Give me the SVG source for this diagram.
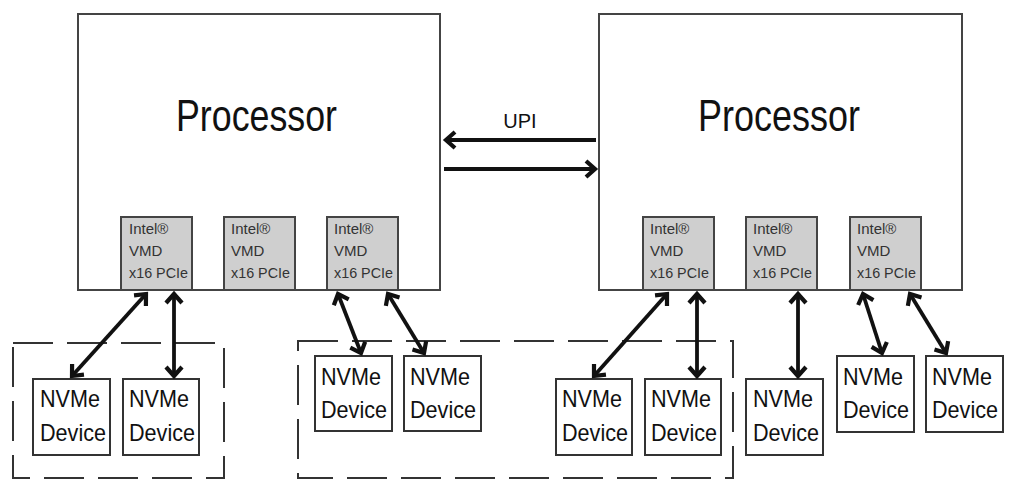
<svg xmlns="http://www.w3.org/2000/svg" width="1010" height="481" viewBox="0 0 1010 481">
<style>
.bg{fill:#ffffff}
.proc{fill:#ffffff;stroke:#444;stroke-width:2}
.vmd{fill:#cfcfcf;stroke:#444;stroke-width:2}
.dev{fill:#ffffff;stroke:#333;stroke-width:2}
.grp{fill:none;stroke:#333;stroke-width:2;stroke-dasharray:40 14}
.t{font-family:"Liberation Sans",Arial,sans-serif;fill:#111}
.big{font-size:44px}
.upi{font-size:20px}
.small{font-size:15px;fill:#333}
.nv{font-size:24px}
.arr{fill:none;stroke:#111;stroke-width:3.8;marker-start:url(#ah);marker-end:url(#ah)}
.one{fill:none;stroke:#111;stroke-width:3.8;marker-end:url(#ah)}
</style>
<defs>
<marker id="ah" markerUnits="userSpaceOnUse" markerWidth="22" markerHeight="22" viewBox="0 0 22 22" refX="14" refY="11" orient="auto-start-reverse">
<path d="M5,3 L14,11 L5,19" fill="none" stroke="#111" stroke-width="4.2" stroke-linejoin="miter"/>
</marker>
</defs>
<rect class="bg" x="0" y="0" width="1010" height="481"/>

<g id="processor-left">
<rect class="proc" x="78" y="14" width="362" height="276"/>
<text class="t big" x="176" y="131" textLength="161" lengthAdjust="spacingAndGlyphs">Processor</text>
</g>
<g id="processor-right">
<rect class="proc" x="599" y="14" width="363" height="276"/>
<text class="t big" x="698" y="131" textLength="162" lengthAdjust="spacingAndGlyphs">Processor</text>
</g>

<g id="vmd-l1">
<rect class="vmd" x="121" y="217" width="71" height="73"/>
<text class="t small" x="129" y="234">Intel®</text>
<text class="t small" x="129" y="256">VMD</text>
<text class="t small" x="129" y="278" textLength="59" lengthAdjust="spacingAndGlyphs">x16 PCIe</text>
</g>
<g id="vmd-l2">
<rect class="vmd" x="224" y="217" width="71" height="73"/>
<text class="t small" x="231" y="234">Intel®</text>
<text class="t small" x="231" y="256">VMD</text>
<text class="t small" x="231" y="278" textLength="59" lengthAdjust="spacingAndGlyphs">x16 PCIe</text>
</g>
<g id="vmd-l3">
<rect class="vmd" x="327" y="217" width="71" height="73"/>
<text class="t small" x="334" y="234">Intel®</text>
<text class="t small" x="334" y="256">VMD</text>
<text class="t small" x="334" y="278" textLength="59" lengthAdjust="spacingAndGlyphs">x16 PCIe</text>
</g>
<g id="vmd-r1">
<rect class="vmd" x="643" y="217" width="71" height="73"/>
<text class="t small" x="650" y="234">Intel®</text>
<text class="t small" x="650" y="256">VMD</text>
<text class="t small" x="650" y="278" textLength="59" lengthAdjust="spacingAndGlyphs">x16 PCIe</text>
</g>
<g id="vmd-r2">
<rect class="vmd" x="746" y="217" width="71" height="73"/>
<text class="t small" x="753" y="234">Intel®</text>
<text class="t small" x="753" y="256">VMD</text>
<text class="t small" x="753" y="278" textLength="59" lengthAdjust="spacingAndGlyphs">x16 PCIe</text>
</g>
<g id="vmd-r3">
<rect class="vmd" x="850" y="217" width="71" height="73"/>
<text class="t small" x="857" y="234">Intel®</text>
<text class="t small" x="857" y="256">VMD</text>
<text class="t small" x="857" y="278" textLength="59" lengthAdjust="spacingAndGlyphs">x16 PCIe</text>
</g>

<g id="group-left">
<rect class="grp" x="13" y="343" width="211" height="135"/>
</g>
<g id="group-middle">
<rect class="grp" x="298" y="341" width="435" height="137"/>
</g>

<g id="nvme-1">
<rect class="dev" x="33" y="379" width="77" height="76"/>
<text class="t nv" x="40" y="407" textLength="60" lengthAdjust="spacingAndGlyphs">NVMe</text>
<text class="t nv" x="40" y="441" textLength="66" lengthAdjust="spacingAndGlyphs">Device</text>
</g>
<g id="nvme-2">
<rect class="dev" x="123" y="379" width="76" height="76"/>
<text class="t nv" x="129" y="407" textLength="60" lengthAdjust="spacingAndGlyphs">NVMe</text>
<text class="t nv" x="129" y="441" textLength="66" lengthAdjust="spacingAndGlyphs">Device</text>
</g>
<g id="nvme-3">
<rect class="dev" x="315" y="356" width="77" height="75"/>
<text class="t nv" x="321" y="385" textLength="60" lengthAdjust="spacingAndGlyphs">NVMe</text>
<text class="t nv" x="321" y="418" textLength="66" lengthAdjust="spacingAndGlyphs">Device</text>
</g>
<g id="nvme-4">
<rect class="dev" x="404" y="356" width="77" height="75"/>
<text class="t nv" x="410" y="385" textLength="60" lengthAdjust="spacingAndGlyphs">NVMe</text>
<text class="t nv" x="410" y="418" textLength="66" lengthAdjust="spacingAndGlyphs">Device</text>
</g>
<g id="nvme-5">
<rect class="dev" x="556" y="379" width="76" height="76"/>
<text class="t nv" x="562" y="407" textLength="60" lengthAdjust="spacingAndGlyphs">NVMe</text>
<text class="t nv" x="562" y="441" textLength="66" lengthAdjust="spacingAndGlyphs">Device</text>
</g>
<g id="nvme-6">
<rect class="dev" x="645" y="379" width="76" height="76"/>
<text class="t nv" x="651" y="407" textLength="60" lengthAdjust="spacingAndGlyphs">NVMe</text>
<text class="t nv" x="651" y="441" textLength="66" lengthAdjust="spacingAndGlyphs">Device</text>
</g>
<g id="nvme-7">
<rect class="dev" x="746" y="379" width="77" height="76"/>
<text class="t nv" x="753" y="407" textLength="60" lengthAdjust="spacingAndGlyphs">NVMe</text>
<text class="t nv" x="753" y="441" textLength="66" lengthAdjust="spacingAndGlyphs">Device</text>
</g>
<g id="nvme-8">
<rect class="dev" x="837" y="356" width="77" height="76"/>
<text class="t nv" x="843" y="385" textLength="60" lengthAdjust="spacingAndGlyphs">NVMe</text>
<text class="t nv" x="843" y="418" textLength="66" lengthAdjust="spacingAndGlyphs">Device</text>
</g>
<g id="nvme-9">
<rect class="dev" x="926" y="356" width="77" height="76"/>
<text class="t nv" x="932" y="385" textLength="60" lengthAdjust="spacingAndGlyphs">NVMe</text>
<text class="t nv" x="932" y="418" textLength="66" lengthAdjust="spacingAndGlyphs">Device</text>
</g>

<g id="upi-label">
<text class="t upi" x="520" y="128" text-anchor="middle">UPI</text>
</g>

<g id="connectors">
<line class="one" x1="596" y1="140" x2="446" y2="140"/>
<line class="one" x1="444" y1="169" x2="595" y2="169"/>
<line class="arr" x1="146" y1="294" x2="72" y2="376"/>
<line class="arr" x1="174" y1="294" x2="174" y2="376"/>
<line class="arr" x1="338" y1="294" x2="361" y2="353"/>
<line class="arr" x1="388" y1="294" x2="424" y2="353"/>
<line class="arr" x1="667" y1="294" x2="594" y2="376"/>
<line class="arr" x1="697" y1="294" x2="697" y2="376"/>
<line class="arr" x1="798" y1="294" x2="798" y2="376"/>
<line class="arr" x1="863" y1="294" x2="882" y2="353"/>
<line class="arr" x1="910" y1="294" x2="946" y2="353"/>
</g>
</svg>
